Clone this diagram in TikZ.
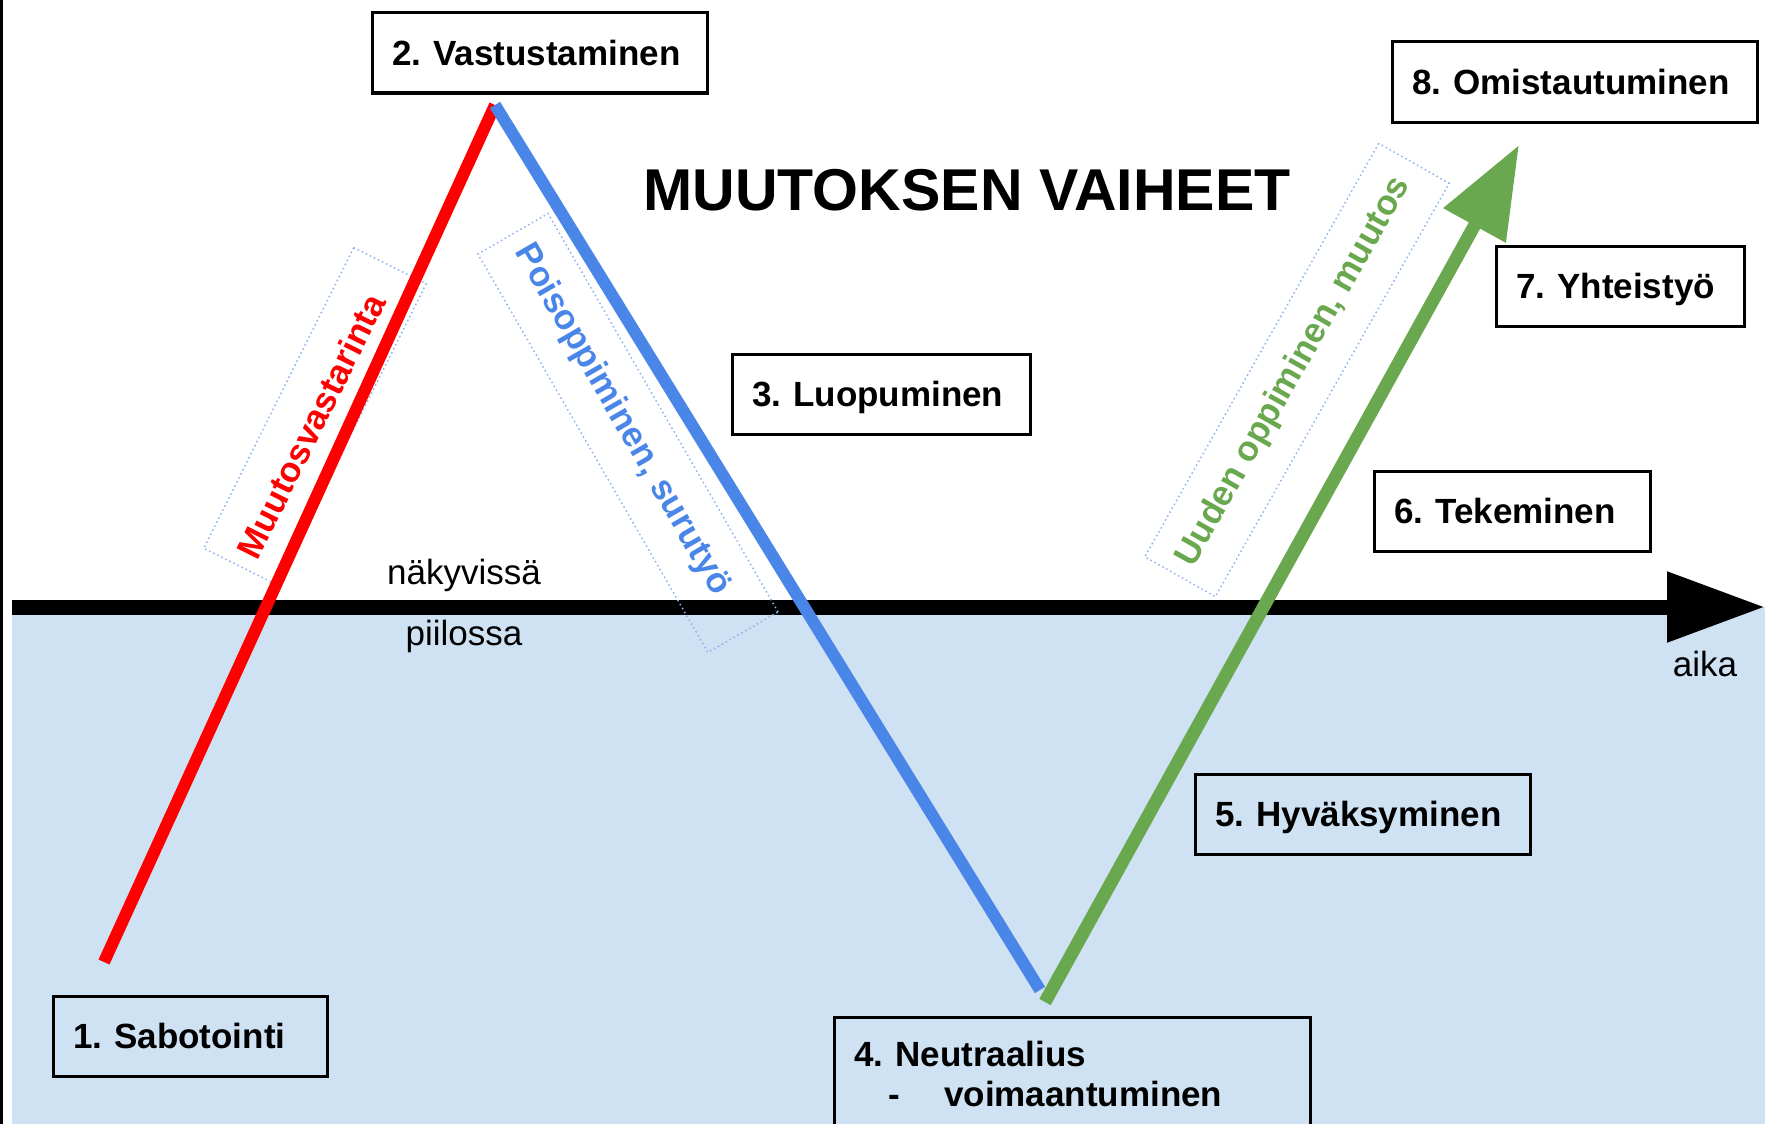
\documentclass[tikz,border=0pt]{standalone}
\usepackage{fontspec}
\setmainfont{Liberation Sans}
\usepackage{xcolor}
\usepackage{tikz}
\usetikzlibrary{arrows.meta, positioning}
\frenchspacing

\definecolor{hiddenblue}{HTML}{CFE2F3}
\definecolor{lossblue}{HTML}{4A86E8}
\definecolor{newgreen}{HTML}{6AA84F}
\definecolor{dotblue}{HTML}{8DB2F0}

\begin{document}
\begin{tikzpicture}[x=1pt, y=-1pt, font=\fontsize{35}{40}\selectfont,
    stagebox/.style={draw=black, line width=3pt, inner xsep=20pt, inner ysep=0pt,
      align=left, font=\fontsize{35}{40}\selectfont\bfseries},
    stage/.style={stagebox, minimum height=80pt, anchor=west, text depth=0pt},
    tagbox/.style={draw=dotblue, line width=1.5pt, dash pattern=on 1.5pt off 3pt, minimum height=81pt, inner sep=0pt},
    tag/.style={inner sep=0pt, font=\fontsize{35}{40}\selectfont\bfseries},
    phase/.style={line width=12pt}]
    \useasboundingbox (0,0) rectangle (1765,1124);

    % Frame and hidden area
    \fill[black] (0,0) rectangle (3,1124);
    \coordinate (axisstart) at (12,607);
    \coordinate (axisend) at (1765,607);
    \fill[hiddenblue] (axisstart) rectangle (1765,1124);

    % Time axis
    \draw[line width=15pt, -{Triangle[length=98pt, width=67pt]}] (axisstart) -- (axisend);
    \node (aika) at (1705,664) {aika};
    \node (visible) at (464,575) {näkyvissä};
    \node (hidden) at (464,636) {piilossa};

    % Title
    \node[anchor=base, font=\fontsize{59}{64}\selectfont\bfseries] (title) at (967,210) {MUUTOKSEN VAIHEET};

    % Dotted label boxes
    \node[tagbox, rotate=63.5, minimum width=336pt] (redbox) at (315,416) {};
    \node[tagbox, rotate=-60, minimum width=460pt] (bluebox) at (628,433) {};
    \node[tagbox, rotate=60.5, minimum width=475pt] (greenbox) at (1297,370) {};

    % Path
    \coordinate (start) at (104,962);
    \coordinate (peak) at (495,105);
    \coordinate (valley) at (1040,990);
    \coordinate (turn) at (1045,1002);
    \coordinate (goal) at (1519,145);

    \draw[phase, red] (start) -- (peak);
    \draw[phase, lossblue] (peak) -- (valley);
    \draw[phase, newgreen, line width=13pt, -{Triangle[length=92pt, width=68pt]}] (turn) -- (goal);

    % Labels along the path
    \node[tag, red, rotate=63.5] (redtag) at (311,426) {Muutosvastarinta};
    \node[tag, lossblue, rotate=-60] (bluetag) at (622,420) {Poisoppiminen, surutyö};
    \node[tag, newgreen, rotate=60.5] (greentag) at (1294,372) {Uuden oppiminen, muutos};

    % Stages
    \node[stage, text width=234pt] (s1) at (52,1036) {1. Sabotointi};
    \node[stage, text width=295pt] (s2) at (371,53) {2. Vastustaminen};
    \node[stage, text width=258pt] (s3) at (731,394) {3. Luopuminen};
    \node[stagebox, anchor=north west, text width=436pt, inner ysep=24pt] (s4) at (833,1016)
      {4. Neutraalius\\\hspace*{34pt}-\hspace*{44pt}voimaantuminen};
    \node[stage, text width=295pt] (s5) at (1194,814) {5. Hyväksyminen};
    \node[stage, text width=236pt] (s6) at (1373,511) {6. Tekeminen};
    \node[stage, text width=208pt] (s7) at (1495,286) {7. Yhteistyö};
    \node[stage, text width=325pt] (s8) at (1391,82) {8. Omistautuminen};

\end{tikzpicture}
\end{document}
